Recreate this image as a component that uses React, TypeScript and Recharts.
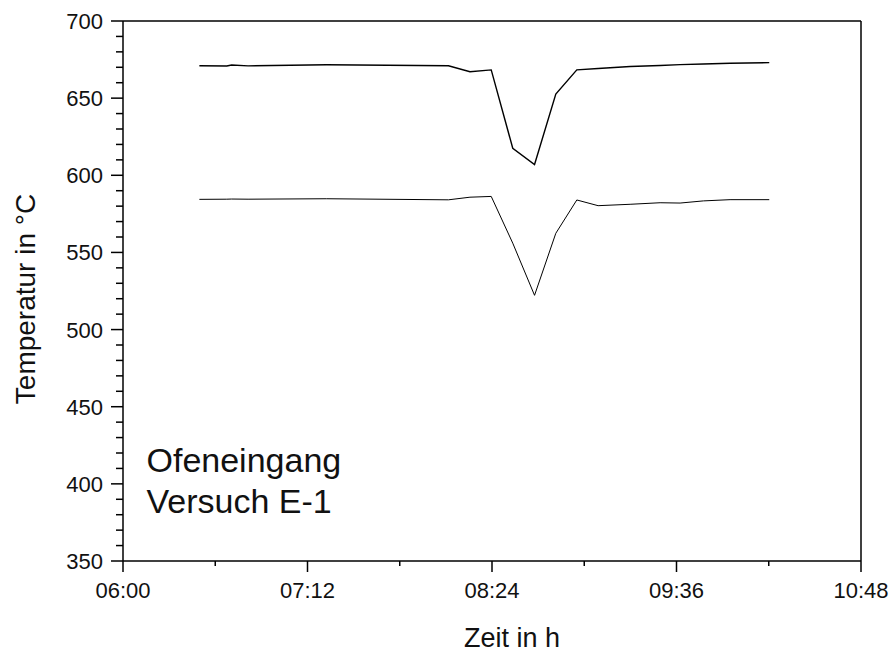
import React from "react"
import {
    LineChart,
    Line,
    XAxis,
    YAxis,
    ReferenceLine,
    Customized,
} from "recharts"

// Zeit in Minuten nach 06:00
const zeitMin = [29.8, 40.5, 42.4, 48.8, 79.5, 127.0, 135.4, 143.7, 152.1, 160.6, 168.9, 177.1, 185.4, 197.9, 209.6, 217.4, 226.5, 236.9, 252.2]
const tempOben = [671.0, 670.8, 671.5, 670.9, 671.6, 671.0, 667.1, 668.3, 617.5, 607.0, 652.7, 668.3, 669.2, 670.5, 671.2, 671.7, 672.1, 672.6, 673.0]
const tempUnten = [584.4, 584.5, 584.6, 584.5, 584.8, 584.1, 585.8, 586.3, 556.0, 522.2, 562.4, 584.0, 580.3, 581.2, 582.2, 582.0, 583.4, 584.2, 584.2]

const xMajorTicks = [0, 72, 144, 216, 288]
const xMinorTicks = [36, 108, 180, 252]
const xTickLabels = ["06:00", "07:12", "08:24", "09:36", "10:48"]
const yMajorTicks = [350, 400, 450, 500, 550, 600, 650, 700]
const yMinorTicks = [360, 370, 380, 390, 410, 420, 430, 440, 460, 470, 480, 490, 510, 520, 530, 540, 560, 570, 580, 590, 610, 620, 630, 640, 660, 670, 680, 690]

const data = zeitMin.map((t, i) => ({ t, oben: tempOben[i], unten: tempUnten[i] }))

const FONT = "'Liberation Sans', Arial, sans-serif"

const XTick = (props: any) => {
    const { x, y, payload } = props
    const idx = xMajorTicks.indexOf(payload.value)
    const major = idx >= 0
    return (
        <g>
            <line x1={x} x2={x} y1={y} y2={y + (major ? 11 : 5)} stroke="#000" strokeWidth={1.5} />
            {major && (
                <text x={x} y={y + 37} textAnchor="middle" fontSize={22} fontFamily={FONT} fill="#111">
                    {xTickLabels[idx]}
                </text>
            )}
        </g>
    )
}

const YTick = (props: any) => {
    const { x, y, payload } = props
    const major = yMajorTicks.includes(payload.value)
    return (
        <g>
            <line x1={x - (major ? 12 : 7)} x2={x} y1={y} y2={y} stroke="#000" strokeWidth={1.5} />
            {major && (
                <text x={x - 20} y={y + 8} textAnchor="end" fontSize={22} fontFamily={FONT} fill="#111">
                    {payload.value}
                </text>
            )}
        </g>
    )
}

const Texte = () => (
    <g fontFamily={FONT} fill="#111">
        <text x={146.5} y={472} fontSize={34}>Ofeneingang</text>
        <text x={146.5} y={513} fontSize={34}>Versuch E-1</text>
        <text x={512} y={647} fontSize={27} textAnchor="middle">Zeit in h</text>
        <text x={35} y={299} fontSize={28} textAnchor="middle" transform="rotate(-90 35 299)">
            Temperatur in °C
        </text>
    </g>
)

export default function App() {
    return (
        <div style={{ position: "absolute", left: 0, top: 0, width: 894, height: 654, background: "#fff" }}>
            <LineChart
                width={894}
                height={654}
                data={data}
                margin={{ top: 21, right: 33, bottom: 0, left: 43 }}
            >
                <XAxis
                    dataKey="t"
                    type="number"
                    domain={[0, 288]}
                    ticks={[...xMajorTicks, ...xMinorTicks].sort((a, b) => a - b)}
                    interval={0}
                    tick={<XTick />}
                    tickLine={false}
                    tickSize={0}
                    tickMargin={0}
                    axisLine={{ stroke: "#000", strokeWidth: 1.5 }}
                    height={93}
                    allowDataOverflow
                />
                <YAxis
                    type="number"
                    domain={[350, 700]}
                    ticks={[...yMajorTicks, ...yMinorTicks].sort((a, b) => a - b)}
                    interval={0}
                    tick={<YTick />}
                    tickLine={false}
                    tickSize={0}
                    tickMargin={0}
                    axisLine={{ stroke: "#000", strokeWidth: 1.5 }}
                    width={80}
                    allowDataOverflow
                />
                <ReferenceLine y={700} stroke="#000" strokeWidth={1.5} />
                <ReferenceLine x={288} stroke="#000" strokeWidth={1.5} />
                <Line
                    type="linear"
                    dataKey="oben"
                    stroke="#000"
                    strokeWidth={1.4}
                    dot={false}
                    isAnimationActive={false}
                />
                <Line
                    type="linear"
                    dataKey="unten"
                    stroke="#000"
                    strokeWidth={1}
                    dot={false}
                    isAnimationActive={false}
                />
                <Customized component={Texte} />
            </LineChart>
        </div>
    )
}
